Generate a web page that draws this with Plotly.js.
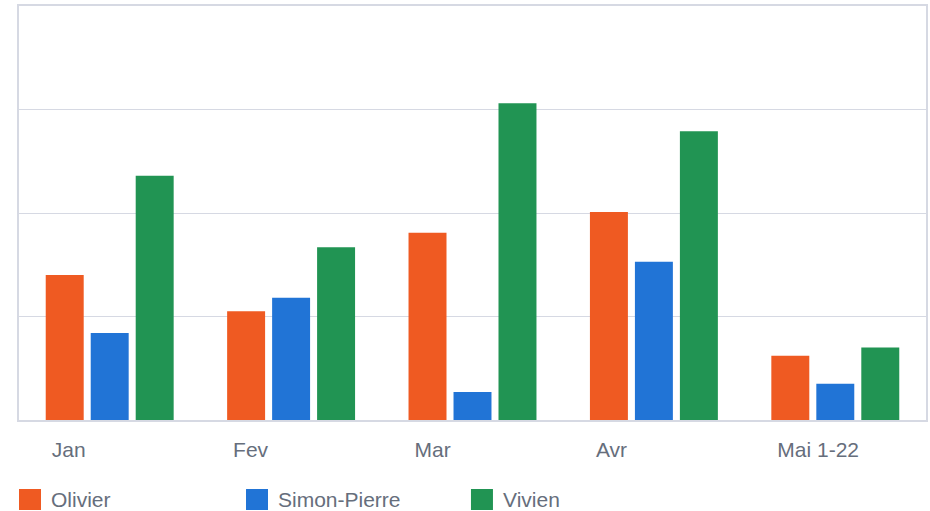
<!DOCTYPE html>
<html>
<head>
<meta charset="utf-8">
<script src="https://cdn.plot.ly/plotly-3.0.1.min.js"></script>
<style>
  html, body { margin: 0; padding: 0; background: #ffffff; }
  #chart { width: 930px; height: 511px; }
</style>
</head>
<body>
<div id="chart"></div>
<script>
// Data
const categories = ["Jan", "Fev", "Mar", "Avr", "Mai 1-22"];
const seriesNames = ["Olivier", "Simon-Pierre", "Vivien"];
const olivier = [14.0, 10.5, 18.1, 20.1, 6.2];
const simonPierre = [8.4, 11.8, 2.7, 15.3, 3.5];
const vivien = [23.6, 16.7, 30.6, 27.9, 7.0];
const colors = ["#ef5a22", "#2174d6", "#219453"];

const seriesValues = [olivier, simonPierre, vivien];
const traces = seriesValues.map((vals, i) => ({
  type: "bar",
  name: seriesNames[i],
  x: categories,
  y: vals,
  marker: { color: colors[i], line: { width: 0 } },
  hoverinfo: "x+y+name"
}));

const textColor = "#666e7c";
const frameColor = "#d6d9e3";
const fontFamily = "Liberation Sans, Arial, Helvetica, sans-serif";
const fsize = 21;

// Custom legend (large squares) in paper coordinates
const legendX = [0, 0.2503, 0.4983];
const sq = 22 / 907;
const shapes = legendX.map((x0, i) => ({
  type: "rect", xref: "paper", yref: "paper",
  x0: x0, x1: x0 + sq,
  y0: -0.1667, y1: -0.2174,
  fillcolor: colors[i], line: { width: 0 }
}));
const annotations = legendX.map((x0, i) => ({
  xref: "paper", yref: "paper",
  x: x0 + 30 / 907, y: -0.1932,
  xanchor: "left", yanchor: "middle",
  text: seriesNames[i], showarrow: false,
  font: { family: fontFamily, size: fsize, color: textColor }
}));

const layout = {
  width: 930, height: 511,
  margin: { l: 19, r: 4, t: 6, b: 91, pad: 0 },
  paper_bgcolor: "#ffffff",
  plot_bgcolor: "#ffffff",
  showlegend: false,
  barmode: "group",
  bargap: 0.256,
  bargroupgap: 0.156,
  font: { family: fontFamily, size: fsize, color: textColor },
  xaxis: {
    type: "category",
    showline: true, mirror: true, linecolor: frameColor, linewidth: 2,
    showgrid: false, ticks: "",
    ticklabelposition: "outside right",
    ticklabelshift: -59,
    ticklabelstandoff: 10,
    tickfont: { family: fontFamily, size: fsize, color: textColor },
    fixedrange: true
  },
  yaxis: {
    range: [0, 40], dtick: 10, tick0: 0,
    showticklabels: false, ticks: "",
    showgrid: true, gridcolor: frameColor, gridwidth: 1,
    zeroline: false,
    showline: true, mirror: true, linecolor: frameColor, linewidth: 2,
    fixedrange: true
  },
  shapes: shapes,
  annotations: annotations
};

Plotly.newPlot("chart", traces, layout, { displayModeBar: false });
</script>
</body>
</html>
